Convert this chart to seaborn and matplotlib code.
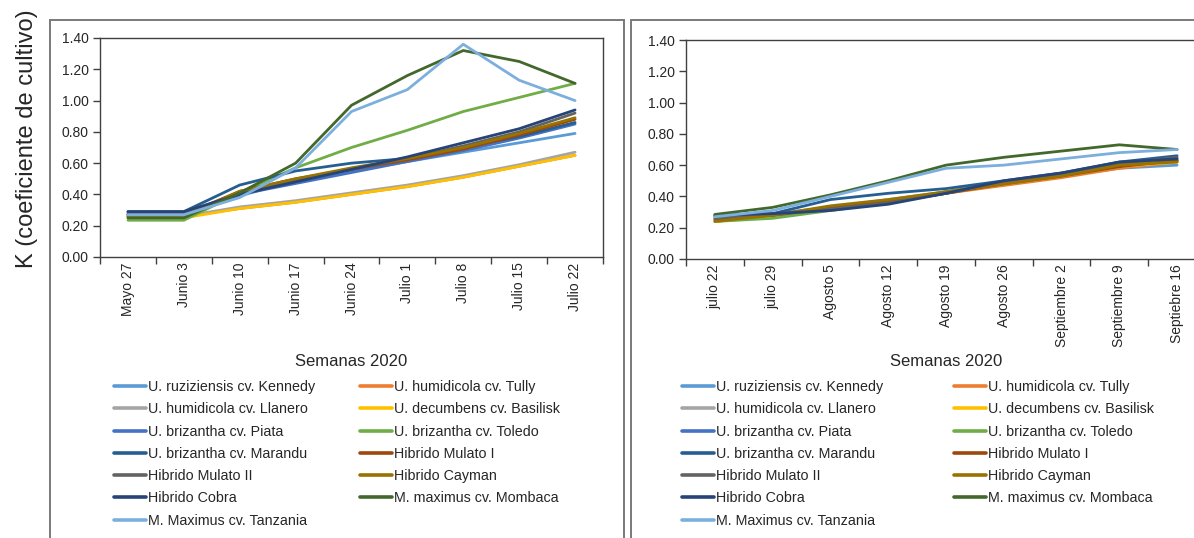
import numpy as np
import pandas as pd
import matplotlib
matplotlib.use("Agg")
import matplotlib.pyplot as plt
from matplotlib.lines import Line2D
from matplotlib.patches import Rectangle
import seaborn as sns

sns.set_theme(style="white")
plt.rcParams["font.family"] = ["Liberation Sans", "DejaVu Sans"]

# Varieties and their colours (series order)
varieties = [
    "U. ruziziensis cv. Kennedy",
    "U. humidicola cv. Tully",
    "U. humidicola cv. Llanero",
    "U. decumbens cv. Basilisk",
    "U. brizantha cv. Piata",
    "U. brizantha cv. Toledo",
    "U. brizantha cv. Marandu",
    "Hibrido Mulato I",
    "Hibrido Mulato II",
    "Hibrido Cayman",
    "Hibrido Cobra",
    "M. maximus cv. Mombaca",
    "M. Maximus cv. Tanzania",
]
colors = [
    "#5B9BD5", "#ED7D31", "#A5A5A5", "#FFC000", "#4472C4", "#70AD47",
    "#255E91", "#9E480E", "#636363", "#997300", "#264478", "#43682B",
    "#7CAFDD",
]

# Period 1: weeks from late May to late July
weeks_1 = ["Mayo 27", "Junio 3", "Junio 10", "Junio 17", "Junio 24",
           "Julio 1", "Julio 8", "Julio 15", "Julio 22"]
kennedy_1  = [0.27, 0.27, 0.39, 0.49, 0.55, 0.61, 0.67, 0.73, 0.79]
tully_1    = [0.26, 0.26, 0.31, 0.35, 0.40, 0.45, 0.51, 0.58, 0.65]
llanero_1  = [0.26, 0.26, 0.32, 0.36, 0.41, 0.46, 0.52, 0.59, 0.67]
basilisk_1 = [0.25, 0.25, 0.31, 0.35, 0.40, 0.45, 0.51, 0.58, 0.65]
piata_1    = [0.28, 0.28, 0.40, 0.47, 0.54, 0.61, 0.68, 0.76, 0.85]
toledo_1   = [0.235, 0.235, 0.41, 0.57, 0.70, 0.81, 0.93, 1.02, 1.11]
marandu_1  = [0.29, 0.29, 0.46, 0.55, 0.60, 0.63, 0.70, 0.77, 0.86]
mulato1_1  = [0.27, 0.27, 0.42, 0.50, 0.56, 0.62, 0.69, 0.78, 0.88]
mulato2_1  = [0.27, 0.27, 0.41, 0.49, 0.56, 0.63, 0.71, 0.80, 0.92]
cayman_1   = [0.26, 0.26, 0.42, 0.50, 0.57, 0.63, 0.70, 0.79, 0.89]
cobra_1    = [0.29, 0.29, 0.40, 0.48, 0.56, 0.64, 0.73, 0.82, 0.94]
mombaca_1  = [0.25, 0.25, 0.41, 0.60, 0.97, 1.16, 1.32, 1.25, 1.11]
tanzania_1 = [0.27, 0.27, 0.38, 0.57, 0.93, 1.07, 1.36, 1.13, 1.00]

# Period 2: weeks from late July to mid September
weeks_2 = ["julio 22", "julio 29", "Agosto 5", "Agosto 12", "Agosto 19",
           "Agosto 26", "Septiembre 2", "Septiembre 9", "Septiebre 16"]
kennedy_2  = [0.27, 0.29, 0.33, 0.37, 0.43, 0.49, 0.53, 0.58, 0.60]
tully_2    = [0.25, 0.27, 0.33, 0.37, 0.42, 0.47, 0.52, 0.58, 0.62]
llanero_2  = [0.26, 0.28, 0.33, 0.38, 0.43, 0.49, 0.54, 0.60, 0.64]
basilisk_2 = [0.24, 0.27, 0.32, 0.36, 0.42, 0.48, 0.53, 0.59, 0.62]
piata_2    = [0.27, 0.28, 0.32, 0.36, 0.42, 0.49, 0.54, 0.60, 0.63]
toledo_2   = [0.24, 0.26, 0.31, 0.36, 0.43, 0.49, 0.54, 0.60, 0.63]
marandu_2  = [0.28, 0.29, 0.38, 0.42, 0.45, 0.50, 0.55, 0.62, 0.66]
mulato1_2  = [0.25, 0.28, 0.33, 0.37, 0.42, 0.48, 0.53, 0.59, 0.63]
mulato2_2  = [0.26, 0.28, 0.32, 0.36, 0.42, 0.49, 0.54, 0.61, 0.65]
cayman_2   = [0.24, 0.28, 0.34, 0.38, 0.43, 0.48, 0.53, 0.60, 0.62]
cobra_2    = [0.28, 0.29, 0.31, 0.35, 0.42, 0.50, 0.55, 0.62, 0.64]
mombaca_2  = [0.285, 0.33, 0.41, 0.50, 0.60, 0.65, 0.69, 0.73, 0.70]
tanzania_2 = [0.27, 0.31, 0.40, 0.49, 0.58, 0.60, 0.64, 0.68, 0.70]

y_ticks = [0.0, 0.2, 0.4, 0.6, 0.8, 1.0, 1.2, 1.4]

series_1 = [kennedy_1, tully_1, llanero_1, basilisk_1, piata_1, toledo_1,
            marandu_1, mulato1_1, mulato2_1, cayman_1, cobra_1, mombaca_1,
            tanzania_1]
series_2 = [kennedy_2, tully_2, llanero_2, basilisk_2, piata_2, toledo_2,
            marandu_2, mulato1_2, mulato2_2, cayman_2, cobra_2, mombaca_2,
            tanzania_2]


def long_frame(weeks, series):
    rows = []
    for name, vals in zip(varieties, series):
        for i, v in enumerate(vals):
            rows.append({"semana": i, "K": v, "variedad": name})
    return pd.DataFrame(rows)


W, H = 1194, 538
fig = plt.figure(figsize=(W / 100, H / 100), dpi=100)
fig.patch.set_facecolor("white")

# Outer frames around each panel
frame_kw = dict(fill=False, edgecolor="#7a7a7a", linewidth=1.4,
                transform=fig.transFigure, clip_on=False)
fig.patches.append(Rectangle((50 / W, -0.05), (624 - 50) / W, 1.05 - 20 / H, **frame_kw))
fig.patches.append(Rectangle((631 / W, -0.05), 0.6, 1.05 - 20 / H, **frame_kw))

ax1 = fig.add_axes([100 / W, 1 - 257 / H, 503 / W, 219 / H])
ax2 = fig.add_axes([686 / W, 1 - 259 / H, 520 / W, 219 / H])

palette = dict(zip(varieties, colors))

for ax, weeks, series in [(ax1, weeks_1, series_1), (ax2, weeks_2, series_2)]:
    df = long_frame(weeks, series)
    sns.lineplot(data=df, x="semana", y="K", hue="variedad",
                 hue_order=varieties, palette=palette, sort=False,
                 linewidth=2.0, legend=False, ax=ax)
    n = len(weeks)
    ax.set_xlim(-0.5, n - 0.5)
    ax.set_ylim(0, 1.4)
    ax.set_yticks(y_ticks)
    ax.set_yticklabels([f"{t:.2f}" for t in y_ticks])
    # tick marks between categories, labels at the category centres
    ax.set_xticks(np.arange(-0.5, n, 1.0))
    ax.set_xticklabels([])
    ax.set_xticks(np.arange(n), minor=True)
    ax.set_xticklabels(weeks, minor=True, rotation=90, fontsize=10,
                       color="#262626")
    ax.tick_params(axis="x", which="major", length=5, width=1,
                   color="#404040", direction="out", bottom=True)
    ax.tick_params(axis="x", which="minor", length=0, pad=4)
    ax.tick_params(axis="y", length=5, width=1, color="#404040",
                   direction="out", left=True, labelsize=10,
                   labelcolor="#262626", pad=3)
    ax.set_xlabel("")
    ax.set_ylabel("")
    for s in ax.spines.values():
        s.set_color("#404040")
        s.set_linewidth(1.0)
    ax.grid(False)

fig.text(27 / W, 1 - 139 / H, "K (coeficiente de cultivo)", rotation=90,
         ha="center", va="center", fontsize=17, color="#262626")
fig.text(351 / W, 1 - 361 / H, "Semanas 2020", ha="center", va="center",
         fontsize=12, color="#262626")
fig.text(946 / W, 1 - 361 / H, "Semanas 2020", ha="center", va="center",
         fontsize=12, color="#262626")

# Legends: row-wise order in two columns
handles = [Line2D([0], [0], color=c, linewidth=2.6) for c in colors]
order = [0, 2, 4, 6, 8, 10, 12, 1, 3, 5, 7, 9, 11]
h_ord = [handles[i] for i in order]
l_ord = [varieties[i] for i in order]

for x0, colsp in [(114, 3.1), (682, 4.9)]:
    fig.legend(h_ord, l_ord, loc="upper left",
               bbox_to_anchor=(x0 / W, 1 - 380 / H),
               bbox_transform=fig.transFigure, ncol=2, frameon=False,
               fontsize=10.3, handlelength=2.25, handletextpad=0.15,
               columnspacing=colsp, labelspacing=0.58, borderpad=0,
               borderaxespad=0, labelcolor="#262626")

fig.savefig("out.png", dpi=100)
